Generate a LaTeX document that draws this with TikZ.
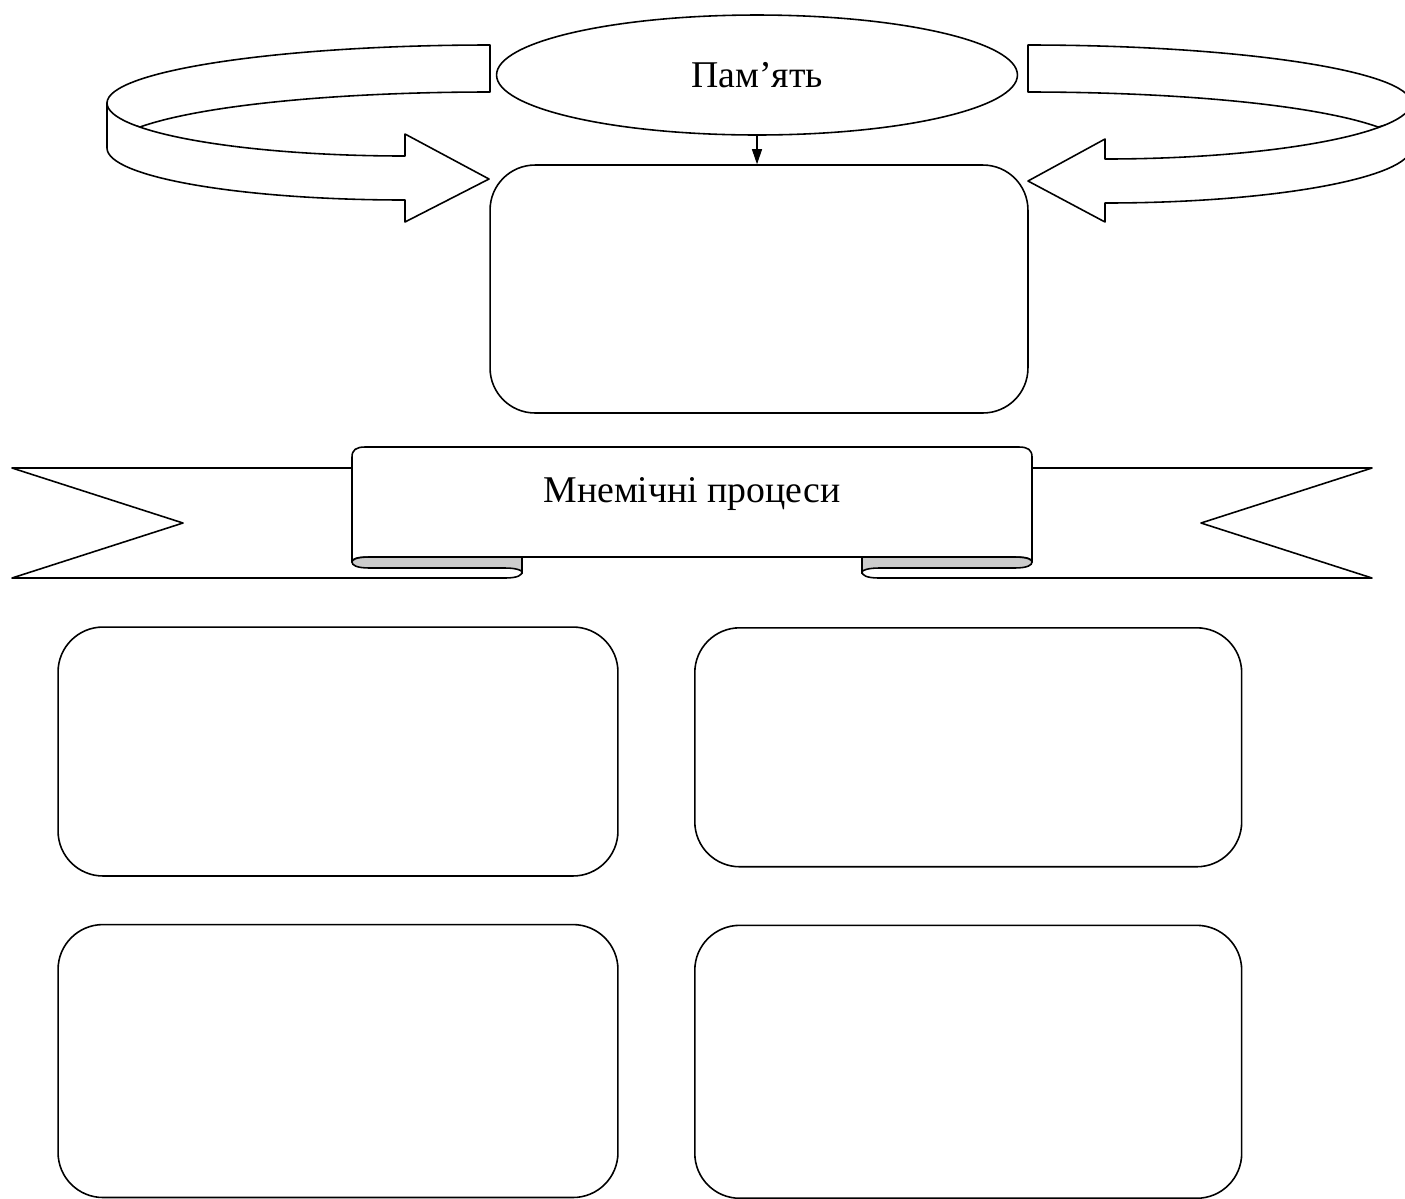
\documentclass[tikz,border=0pt]{standalone}
\usepackage{fontspec}
\setmainfont{Liberation Serif}
\usetikzlibrary{arrows.meta,positioning,shapes.geometric}

\begin{document}
\begin{tikzpicture}[x=0.02cm,y=-0.02cm,line width=0.9pt,
 box/.style={draw,rounded corners=0.9cm,inner sep=0pt},
 band/.style={draw,fill=white,line join=round},
 roll/.style={draw,fill=gray!40},
 txt/.style={font=\fontsize{21.5}{26}\selectfont}]
\useasboundingbox (0,0) rectangle (1405,1198);
% loops round the memory
\draw[band] (490,45) .. controls (279,45) and (107,71) .. (107,103) .. controls (107,118) and (120,122) .. (140,127) .. controls (202,105) and (339,92) .. (490,92) -- cycle;
\draw[band] (107,103) .. controls (107,132) and (241,156) .. (405,156) -- (405,134) -- (489,179) -- (405,222) -- (405,200) .. controls (241,200) and (107,177) .. (107,148) -- cycle;
\draw[band] (1028,45) .. controls (1239,45) and (1411,71) .. (1411,103) .. controls (1411,118) and (1398,122) .. (1378,127) .. controls (1316,105) and (1179,92) .. (1028,92) -- cycle;
\draw[band] (1411,103) .. controls (1411,132) and (1277,159) .. (1105,159) -- (1105,139) -- (1028,181) -- (1105,222) -- (1105,203) .. controls (1277,203) and (1411,177) .. (1411,148) -- cycle;
\node[draw,ellipse,minimum width=10.42cm,minimum height=2.4cm,txt] (mem) at (757,75) {Пам’ять};
\node[box,minimum width=10.76cm,minimum height=4.96cm] (core) at (759,289) {};
\draw[-{Triangle[length=0.3cm,width=0.2cm]},line width=0.6pt] (mem.south) -- (mem.south |- core.north);
% ribbon
\draw[band] (352,468) -- (12,468) -- (183,523) -- (12,578) -- (505,578) .. controls (518,578) and (522,575) .. (522,572) -- (522,557) -- (352,557) -- cycle;
\draw[band] (1032,468) -- (1372,468) -- (1201,523) -- (1372,578) -- (879,578) .. controls (866,578) and (862,575) .. (862,572) -- (862,557) -- (1032,557) -- cycle;
\draw[band] (352,562) -- (352,457) .. controls (352,450) and (356,447) .. (365,447) -- (1019,447) .. controls (1028,447) and (1032,450) .. (1032,457) -- (1032,562) .. controls (1032,559) and (1028,557) .. (1014,557) -- (370,557) .. controls (356,557) and (352,559) .. (352,562) -- cycle;
\draw[roll] (522,557) -- (370,557) .. controls (355,557) and (352,560) .. (352,562) .. controls (352,565) and (356,568) .. (370,568) -- (505,568) .. controls (515,568) and (522,570) .. (522,572) -- cycle;
\draw[roll] (862,557) -- (1014,557) .. controls (1029,557) and (1032,560) .. (1032,562) .. controls (1032,565) and (1028,568) .. (1014,568) -- (879,568) .. controls (869,568) and (862,570) .. (862,572) -- cycle;
\node[txt] (banner) at (692,494) {Мнемічні процеси};
% boxes below
\node[box,minimum width=11.2cm,minimum height=4.98cm] (a) at (338,751.5) {};
\node[box,minimum width=10.94cm,minimum height=4.78cm,anchor=north west] (b) at (694,627) {};
\node[box,minimum width=11.2cm,minimum height=5.46cm,below=0.94cm of a] (c) {};
\node[box,minimum width=10.94cm,minimum height=5.46cm,below=1.14cm of b] (d) {};
\end{tikzpicture}
\end{document}
